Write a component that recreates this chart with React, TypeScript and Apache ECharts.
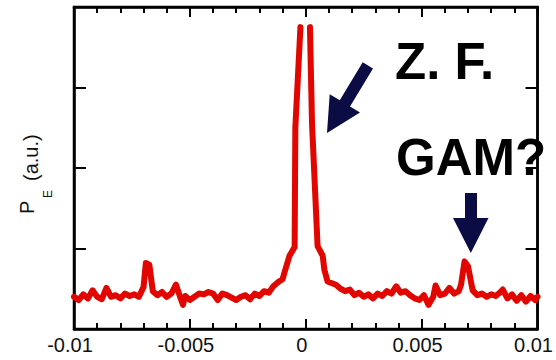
import React, { useEffect, useRef } from "react";
import * as echarts from "echarts";

// Frequency (x) and power (a.u.), left of the zonal-flow peak
const freqLeft = [
  -0.0100, -0.0098, -0.0096, -0.0094, -0.0092, -0.0090, -0.0088, -0.0086, -0.0084, -0.0082,
  -0.0080, -0.0078, -0.0076, -0.0074, -0.0072, -0.0070, -0.0069, -0.00675, -0.0066, -0.0064,
  -0.0062, -0.0060, -0.0058, -0.0056, -0.0054, -0.0053, -0.0052, -0.0050, -0.0048, -0.0046,
  -0.0044, -0.0042, -0.0040, -0.0038, -0.0036, -0.0034, -0.0032, -0.0030, -0.0028, -0.0026,
  -0.0024, -0.0022, -0.0020, -0.0018, -0.0016, -0.0014, -0.0012, -0.0010, -0.0009, -0.0007,
  -0.00048, -0.00045, -0.00023,
];
const powerLeft = [
  0.40, 0.36, 0.43, 0.38, 0.48, 0.40, 0.37, 0.51, 0.40, 0.42,
  0.38, 0.44, 0.41, 0.43, 0.40, 0.52, 0.82, 0.80, 0.47, 0.42,
  0.46, 0.40, 0.44, 0.55, 0.38, 0.30, 0.41, 0.36, 0.40, 0.44,
  0.43, 0.46, 0.44, 0.36, 0.44, 0.42, 0.39, 0.36, 0.40, 0.42,
  0.37, 0.44, 0.41, 0.47, 0.45, 0.53, 0.58, 0.62, 0.72, 0.91,
  1.02, 2.50, 3.75,
];
// Right of the zonal-flow peak
const freqRight = [
  0.00018, 0.00027, 0.00051, 0.00073, 0.00080, 0.00094, 0.0013, 0.0015, 0.0017, 0.0019,
  0.0021, 0.0023, 0.0025, 0.0027, 0.0029, 0.0031, 0.0033, 0.0035, 0.0037, 0.0039,
  0.0041, 0.0043, 0.0045, 0.0047, 0.0049, 0.0051, 0.0053, 0.0055, 0.0056, 0.0058,
  0.0060, 0.0062, 0.0064, 0.0066, 0.0067, 0.00685, 0.0070, 0.0072, 0.0074, 0.0076,
  0.0078, 0.0080, 0.0082, 0.0084, 0.0085, 0.0087, 0.0089, 0.0091, 0.0093, 0.0095,
  0.0097, 0.0099, 0.0100,
];
const powerRight = [
  3.75, 2.55, 1.03, 0.91, 0.74, 0.59, 0.55, 0.50, 0.47, 0.49,
  0.42, 0.45, 0.40, 0.43, 0.38, 0.44, 0.41, 0.47, 0.44, 0.53,
  0.45, 0.47, 0.42, 0.38, 0.36, 0.42, 0.30, 0.40, 0.54, 0.42,
  0.44, 0.51, 0.44, 0.47, 0.55, 0.84, 0.78, 0.48, 0.42, 0.44,
  0.40, 0.43, 0.41, 0.46, 0.49, 0.38, 0.43, 0.35, 0.42, 0.34,
  0.41, 0.36, 0.40,
];

const xTickLabels = ["-0.01", "-0.005", "0", "0.005", "0.01"];
const xMin = -0.01;
const xMax = 0.01;
const xStep = 0.005;
const yMin = 0;
const yMax = 4;
const yStep = 1;

const RED = "#e10600";
const NAVY = "#0c0c45";
const FONT = "Liberation Sans, Arial, Helvetica, sans-serif";

export default function App() {
  const ref = useRef<HTMLDivElement>(null);

  useEffect(() => {
    if (!ref.current) return;
    const chart = echarts.init(ref.current, undefined, { renderer: "svg" });

    const leftData = freqLeft.map((f, i) => [f, powerLeft[i]]);
    const rightData = freqRight.map((f, i) => [f, powerRight[i]]);

    chart.setOption({
      animation: false,
      grid: {
        left: 74,
        right: 14,
        top: 7,
        bottom: 31,
        show: true,
        borderColor: "#000",
        borderWidth: 2.5,
      },
      xAxis: [
        {
          type: "value",
          min: xMin,
          max: xMax,
          interval: xStep,
          position: "bottom",
          axisLine: { show: true, onZero: false, lineStyle: { color: "#000", width: 2.5 } },
          axisTick: { show: true, inside: true, length: 10, lineStyle: { color: "#000", width: 2 } },
          minorTick: { show: true, splitNumber: 5, length: 6, lineStyle: { color: "#000", width: 2 } },
          splitLine: { show: false },
          axisLabel: {
            show: true,
            margin: 6,
            color: "#111",
            fontSize: 20,
            fontFamily: FONT,
            padding: [0, 8, 0, 0],
            formatter: (v: number) => xTickLabels[Math.round((v - xMin) / xStep)] ?? "",
          },
        },
        {
          type: "value",
          min: xMin,
          max: xMax,
          interval: xStep,
          position: "top",
          axisLine: { show: true, onZero: false, lineStyle: { color: "#000", width: 2.5 } },
          axisTick: { show: true, inside: true, length: 10, lineStyle: { color: "#000", width: 2 } },
          minorTick: { show: true, splitNumber: 5, length: 6, lineStyle: { color: "#000", width: 2 } },
          splitLine: { show: false },
          axisLabel: { show: false },
        },
      ],
      yAxis: [
        {
          type: "value",
          min: yMin,
          max: yMax,
          interval: yStep,
          position: "left",
          axisLine: { show: true, onZero: false, lineStyle: { color: "#000", width: 2.5 } },
          axisTick: { show: true, inside: true, length: 12, lineStyle: { color: "#000", width: 2 } },
          axisLabel: { show: false },
          splitLine: { show: false },
        },
        {
          type: "value",
          min: yMin,
          max: yMax,
          interval: yStep,
          position: "right",
          axisLine: { show: true, onZero: false, lineStyle: { color: "#000", width: 2.5 } },
          axisTick: { show: true, inside: true, length: 12, lineStyle: { color: "#000", width: 2 } },
          axisLabel: { show: false },
          splitLine: { show: false },
        },
      ],
      series: [
        {
          type: "line",
          data: leftData,
          symbol: "none",
          lineStyle: { color: RED, width: 6, cap: "round", join: "round" },
        },
        {
          type: "line",
          data: rightData,
          symbol: "none",
          lineStyle: { color: RED, width: 6, cap: "round", join: "round" },
        },
      ],
      graphic: [
        // y-axis title P_E (a.u.)
        {
          type: "text",
          x: 27,
          y: 214,
          rotation: Math.PI / 2,
          style: { text: "P", font: `20px ${FONT}`, fill: "#111", align: "left", verticalAlign: "middle" },
        },
        {
          type: "text",
          x: 48,
          y: 198,
          rotation: Math.PI / 2,
          style: { text: "E", font: `12px ${FONT}`, fill: "#111", align: "left", verticalAlign: "middle" },
        },
        {
          type: "text",
          x: 31,
          y: 181,
          rotation: Math.PI / 2,
          style: { text: "(a.u.)", font: `20px ${FONT}`, fill: "#111", align: "left", verticalAlign: "middle" },
        },
        // annotations
        {
          type: "text",
          x: 395,
          y: 61,
          style: { text: "Z. F.", font: `bold 51px ${FONT}`, fill: "#000", align: "left", verticalAlign: "middle" },
        },
        {
          type: "text",
          x: 396,
          y: 157,
          style: { text: "GAM?", font: `bold 51px ${FONT}`, fill: "#000", align: "left", verticalAlign: "middle" },
        },
        {
          type: "polygon",
          shape: { points: [[362.7, 62.3], [373, 68.5], [350, 106.5], [360, 112.5], [327, 133], [329.7, 94.3], [339.8, 100.3]] },
          style: { fill: NAVY },
        },
        {
          type: "polygon",
          shape: { points: [[465, 193], [477, 193], [477, 218], [488.5, 218], [470.8, 253], [453, 218], [465, 218]] },
          style: { fill: NAVY },
        },
      ],
    });

    return () => chart.dispose();
  }, []);

  return <div ref={ref} style={{ position: "absolute", left: 0, top: 0, width: 556, height: 360 }} />;
}
